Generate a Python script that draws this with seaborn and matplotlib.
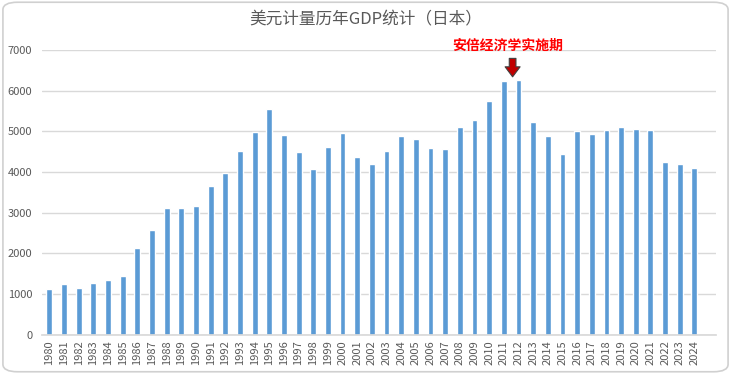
import matplotlib
matplotlib.use("Agg")
import matplotlib.pyplot as plt
from matplotlib.patches import FancyBboxPatch
import pandas as pd
import seaborn as sns

# Japan GDP in USD (100 million units as shown on the chart)
YEARS = [str(y) for y in range(1980, 2025)]
GDP = [1130, 1238, 1155, 1263, 1337, 1435, 2123, 2580, 3113, 3105,
       3170, 3646, 3973, 4531, 4998, 5545, 4914, 4482, 4088, 4629,
       4963, 4373, 4187, 4514, 4889, 4826, 4604, 4570, 5111, 5292,
       5759, 6233, 6265, 5226, 4899, 4440, 5004, 4930, 5037, 5111,
       5054, 5037, 4260, 4211, 4103]
Y_TICKS = [0, 1000, 2000, 3000, 4000, 5000, 6000, 7000]

TITLE = "美元计量历年GDP统计（日本）"
NOTE = "安倍经济学实施期"

sns.set_theme(style="white")
plt.rcParams["font.family"] = ["Noto Sans CJK SC", "DejaVu Sans"]

df = pd.DataFrame({"year": YEARS, "gdp": GDP})

fig = plt.figure(figsize=(7.31, 3.74), dpi=100)
ax = fig.add_axes([0.0575, 0.105, 0.9225, 0.761])

sns.barplot(data=df, x="year", y="gdp", color="#5B9BD5", width=0.4,
            saturation=1, ax=ax)

ax.set_ylim(0, 7000)
ax.set_xlim(-0.5, len(YEARS) + 0.5)
ax.set_yticks(Y_TICKS)
ax.set_yticklabels([str(t) for t in Y_TICKS])
ax.yaxis.grid(True, color="#D9D9D9", lw=1)
ax.set_axisbelow(True)
ax.set_xlabel("")
ax.set_ylabel("")
for s in ["top", "right", "left"]:
    ax.spines[s].set_visible(False)
ax.spines["bottom"].set_color("#D9D9D9")
ax.tick_params(axis="y", length=0, pad=7, labelsize=8, labelcolor="#595959")
ax.tick_params(axis="x", length=0, pad=4, labelsize=8, labelcolor="#595959",
               labelrotation=90)

fig.text(0.5, 0.947, TITLE, ha="center", va="center", fontsize=12,
         color="#595959")

# Abenomics marker between 2011 and 2012
i12 = YEARS.index("2012")
ax.annotate("", xy=(i12 - 0.4, GDP[i12] + 10), xytext=(i12 - 0.4, GDP[i12] + 600),
            arrowprops=dict(arrowstyle="simple,head_width=0.9,head_length=0.6,tail_width=0.4",
                            fc="#C00000", ec="#404040", lw=0.8),
            annotation_clip=False)
ax.text(i12 - 0.75, 7100, NOTE, ha="center", va="center", fontsize=10,
        fontweight="bold", color="#FF0000", clip_on=False)

fig.patches.append(FancyBboxPatch((0.004, 0.006), 0.992, 0.988,
                                  boxstyle="round,pad=0,rounding_size=0.02",
                                  transform=fig.transFigure, fc="none",
                                  ec="#D0D0D0", lw=1.2))

fig.savefig("out.png", dpi=100)
